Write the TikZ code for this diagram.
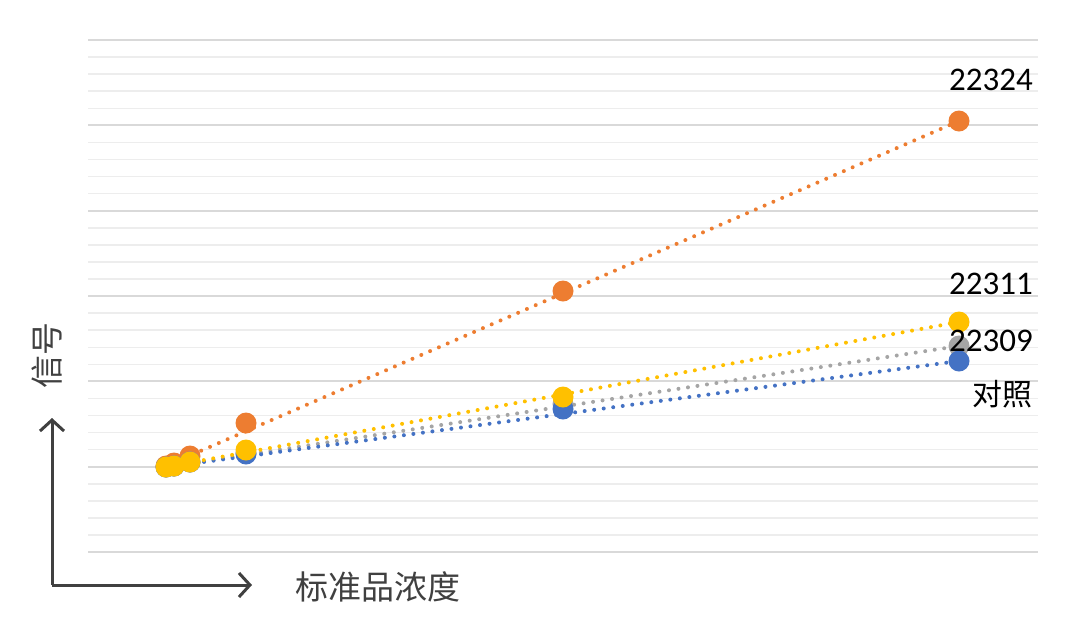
\documentclass[tikz,border=0pt]{standalone}
\usepackage{fontspec}
\setmainfont{Carlito}
\newfontfamily\cjk{Noto Sans CJK SC}
\usetikzlibrary{arrows.meta}
\definecolor{cOrange}{HTML}{ED7D31}
\definecolor{cGray}{HTML}{A5A5A5}
\definecolor{cBlue}{HTML}{4472C4}
\definecolor{cGold}{HTML}{FFC000}
\definecolor{cGrid}{HTML}{EDEDED}
\definecolor{cMajor}{HTML}{D9D9D9}
\definecolor{cAxis}{HTML}{404040}
\tikzset{
  trend/.style={line width=4pt, dash pattern=on 0pt off 9.6pt, line cap=round},
  dot/.style={circle, fill=#1, minimum size=21pt, inner sep=0pt},
  lbl/.style={font=\fontsize{33pt}{33pt}\selectfont, text=black},
  axlbl/.style={font=\cjk\fontsize{33pt}{33pt}\selectfont, text=cAxis},
}
\begin{document}
\begin{tikzpicture}[x=1pt,y=-1pt]

  \useasboundingbox (0,0) rectangle (1080,625);

  %% grid
  \foreach \k in {0,...,30}
    \draw[cGrid, line width=1.5pt] (88, 40+\k*17.07) -- (1038, 40+\k*17.07);
  \foreach \k in {0,...,6}
    \draw[cMajor, line width=2pt] (88, 40+\k*85.33) -- (1038, 40+\k*85.33);

  %% series: name/colour/points
  \foreach \c/\ya/\yb/\yc/\yd/\ye/\yf in {
      cOrange/466/463/456/423/291/121,
      cGray/467/466/462/453/404/346,
      cBlue/467/466/462/454/409/361,
      cGold/467/466/462/450/397/322} {
    \draw[trend, \c] (166,\ya) -- (959,\yf);
    \node[dot=\c] (a\c) at (166,\ya) {};
    \node[dot=\c] (b\c) at (174,\yb) {};
    \node[dot=\c] (c\c) at (190,\yc) {};
    \node[dot=\c] (d\c) at (246,\yd) {};
    \node[dot=\c] (e\c) at (563,\ye) {};
    \node[dot=\c] (f\c) at (959,\yf) {};
  }

  \node[lbl] (l1) at (991,80) {22324};
  \node[lbl] (l2) at (991,284) {22311};
  \node[lbl] (l3) at (991,341) {22309};
  \node[axlbl, text=black, font=\cjk\fontsize{30pt}{30pt}\selectfont] (l4) at (1002,394) {对照};

  %% axes
  \coordinate (o) at (52,585);
  \coordinate (yt) at (52,418);
  \coordinate (xt) at (252,585);
  \draw[cAxis, line width=3pt, -{Straight Barb[length=11pt,width=24pt]}] (o) -- (yt);
  \draw[cAxis, line width=3pt, -{Straight Barb[length=11pt,width=24pt]}] (o) -- (xt);
  \node[axlbl, rotate=90] (ylab) at (47,355) {信号};
  \node[axlbl] (xlab) at (378,587) {标准品浓度};

\end{tikzpicture}
\end{document}
